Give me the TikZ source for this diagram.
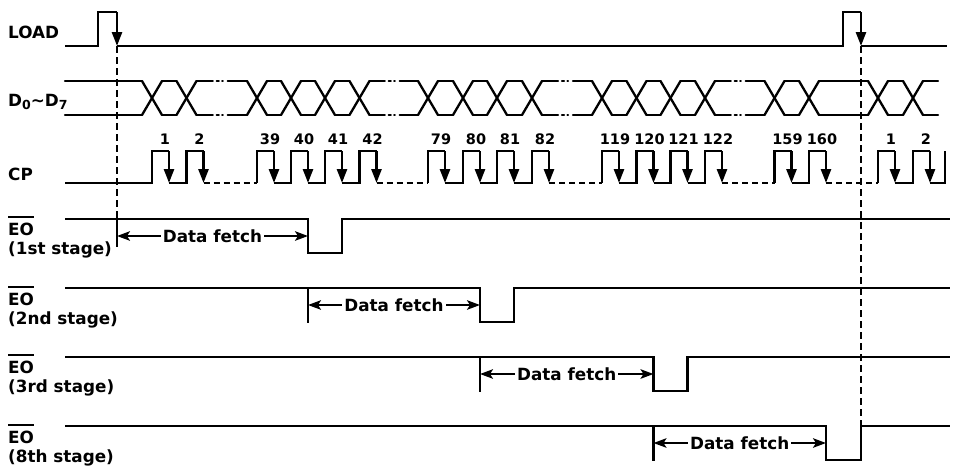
\documentclass[tikz,border=0pt]{standalone}
\usepackage{fontspec}
\setmainfont{DejaVu Sans}
\usetikzlibrary{arrows.meta}
\newcommand{\obar}[1]{\vbox{\hrule height 1.9pt\kern 4.3pt\hbox{#1}}}
\newcommand{\dsub}[1]{\raisebox{-3.5pt}{\fontsize{12.5}{13}\selectfont #1}}
\begin{document}
\begin{tikzpicture}[x=1pt,y=-1pt,
  sig/.style={line width=2.6pt, line join=miter},
  dsig/.style={line width=2.6pt, dash pattern=on 6pt off 4pt},
  bus/.style={line width=2.3pt, line cap=round},
  guide/.style={line width=2.5pt, dash pattern=on 7pt off 4pt},
  fallarrow/.style={line width=2.6pt, -{Triangle[length=14pt,width=10pt]}},
  fetch/.style={line width=2pt, {Stealth[length=13pt,width=9.5pt,inset=3pt]}-{Stealth[length=13pt,width=9.5pt,inset=3pt]}},
  lbl/.style={anchor=base west, inner sep=0pt, font=\fontsize{16.8}{18}\selectfont\bfseries},
  cpnum/.style={anchor=base, inner sep=0pt, font=\fontsize{14.5}{16}\selectfont\bfseries},
  ftxt/.style={fill=white, inner xsep=2pt, inner ysep=1pt, font=\fontsize{16.8}{18}\selectfont\bfseries}]
\useasboundingbox (0,0) rectangle (953,475);

% ---------- labels ----------
\node[lbl] (lload) at (8,38) {LOAD};
\node[lbl] (ldata) at (8,106) {D\dsub{0}\textasciitilde D\dsub{7}};
\node[lbl] (lcp) at (8,180) {CP};
\node[lbl] (leoa) at (8,235) {\obar{EO}};
\node[lbl] (lsta) at (8,254) {(1st stage)};
\node[lbl] (leob) at (8,305) {\obar{EO}};
\node[lbl] (lstb) at (8,324) {(2nd stage)};
\node[lbl] (leoc) at (8,373) {\obar{EO}};
\node[lbl] (lstc) at (8,392) {(3rd stage)};
\node[lbl] (leod) at (8,443) {\obar{EO}};
\node[lbl] (lstd) at (8,462) {(8th stage)};

% ---------- LOAD ----------
\draw[sig] (65,46) -- (98,46) -- (98,12) -- (117,12);
\draw[fallarrow] (117,12) -- (117,46);
\draw[sig] (117,46) -- (843,46) -- (843,12) -- (861,12);
\draw[fallarrow] (861,12) -- (861,46);
\draw[sig] (861,46) -- (947,46);

% ---------- D0~D7 bus ----------
\draw[bus] (65,81) -- (142,81);
\draw[bus] (65,115) -- (142,115);
\foreach \c in {152,186.5,257,291,325,359.5,428,463,497,532,602,636.5,670.5,705,774.5,809,878,913}{
  \draw[bus] ({\c-10},81) -- ({\c+10},115);
  \draw[bus] ({\c-10},115) -- ({\c+10},81);
}
\foreach \p/\q in {152/186.5,257/291,291/325,325/359.5,428/463,463/497,497/532,602/636.5,636.5/670.5,670.5/705,774.5/809,809/878,878/913}{
  \draw[bus] ({\p+10},81) -- ({\q-10},81);
  \draw[bus] ({\p+10},115) -- ({\q-10},115);
}
\foreach \p/\q in {186.5/257,359.5/428,532/602,705/774.5}{
  \pgfmathsetmacro{\m}{(\p+\q)/2}
  \foreach \yy in {81,115}{
    \draw[bus] ({\p+10},\yy) -- ({\m-9},\yy);
    \draw[bus] ({\m-5},\yy) -- ({\m-3},\yy);
    \draw[bus] ({\m+0.5},\yy) -- ({\m+1},\yy);
    \draw[bus] ({\m+6},\yy) -- ({\q-10},\yy);
  }
}
\draw[bus] (923,81) -- (938,81);
\draw[bus] (923,115) -- (938,115);

% ---------- CP ----------
\foreach \a/\r in {65/152,169/186.5,257/257,274/291,308/325,342/359.5,428/428,445/463,480/497,514/532,602/602,619/636.5,653.5/670.5,687.5/705,774.5/774.5,791.5/809,878/878,895/913}{
  \draw[sig] (\a,183) -- (\r,183) -- (\r,151) -- ({\r+17},151);
  \draw[fallarrow] ({\r+17},151) -- ({\r+17},183);
}
\draw[sig] (930,183) -- (945,183) -- (945,151);
\foreach \p/\q in {203.5/257,376.5/428,549/602,722/774.5,826/878}{
  \draw[dsig] (\p,183) -- (\q,183);
}
\foreach \r/\t in {152/1,186.5/2,257/39,291/40,325/41,359.5/42,428/79,463/80,497/81,532/82,602/119,636.5/120,670.5/121,705/122,774.5/159,809/160,878/1,913/2}{
  \node[cpnum] at ({\r+13},144) {\t};
}

% ---------- guide lines ----------
\draw[guide] (117,46) -- (117,219);
\draw[guide] (861,46) -- (861,426);

% ---------- EO 1st ----------
\draw[sig] (65,219) -- (308,219) -- (308,253) -- (342,253) -- (342,219) -- (950,219);
\draw[sig] (117,219) -- (117,247);
\draw[fetch] (117,236) -- node[ftxt] (fa) {Data fetch} (308,236);

% ---------- EO 2nd ----------
\draw[sig] (65,288) -- (480,288) -- (480,322) -- (514,322) -- (514,288) -- (950,288);
\draw[sig] (308,288) -- (308,323);
\draw[fetch] (308,305) -- node[ftxt] (fb) {Data fetch} (480,305);

% ---------- EO 3rd ----------
\draw[sig] (65,357) -- (653.5,357) -- (653.5,391) -- (687.5,391) -- (687.5,357) -- (950,357);
\draw[sig] (480,357) -- (480,392);
\draw[fetch] (480,374) -- node[ftxt] (fc) {Data fetch} (653.5,374);

% ---------- EO 8th ----------
\draw[sig] (65,426) -- (826,426) -- (826,460) -- (861,460) -- (861,426) -- (950,426);
\draw[sig] (653.5,426) -- (653.5,461);
\draw[fetch] (653.5,443) -- node[ftxt] (fd) {Data fetch} (826,443);
\end{tikzpicture}
\end{document}
